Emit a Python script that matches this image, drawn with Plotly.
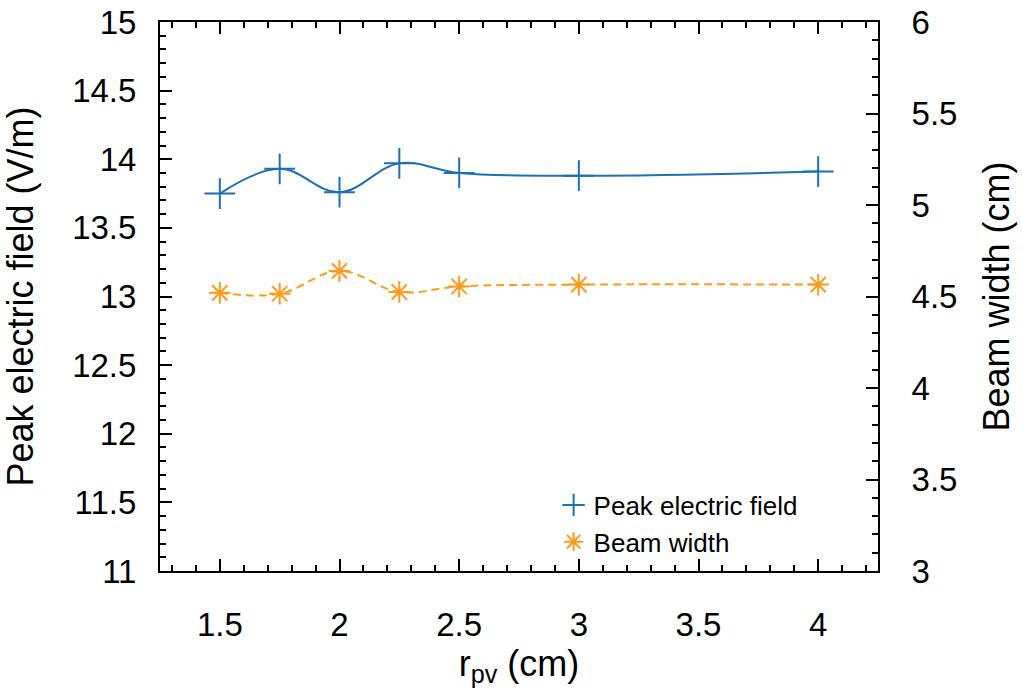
import plotly.graph_objects as go

# ---- data ----
r_pv = [1.5, 1.75, 2.0, 2.25, 2.5, 3.0, 4.0]
peak_field = [13.75, 13.93, 13.76, 13.97, 13.90, 13.88, 13.91]
beam_width = [4.52, 4.515, 4.64, 4.525, 4.555, 4.565, 4.565]

series_names = ["Peak electric field", "Beam width"]
x_ticks = [1.5, 2, 2.5, 3, 3.5, 4]
y1_ticks = [11, 11.5, 12, 12.5, 13, 13.5, 14, 14.5, 15]
y2_ticks = [3, 3.5, 4, 4.5, 5, 5.5, 6]

BLUE = "#1f6fb6"
ORANGE = "#ff9a1a"
FONT = "Liberation Sans, Arial, sans-serif"

fig = go.Figure()

# smooth curves
fig.add_trace(go.Scatter(x=r_pv, y=peak_field, mode="lines",
                         line=dict(color=BLUE, width=2, shape="spline", smoothing=1.1),
                         showlegend=False, hoverinfo="skip"))
fig.add_trace(go.Scatter(x=r_pv, y=beam_width, mode="lines", yaxis="y2",
                         line=dict(color=ORANGE, width=2, shape="spline", smoothing=1.1,
                                   dash="8px,5px"),
                         showlegend=False, hoverinfo="skip"))
# points
fig.add_trace(go.Scatter(x=r_pv, y=peak_field, mode="markers", name=series_names[0],
                         marker=dict(symbol="cross-thin-open", size=22,
                                     line=dict(color=BLUE, width=2), color=BLUE)))
fig.add_trace(go.Scatter(x=r_pv, y=beam_width, mode="markers", name=series_names[1], yaxis="y2",
                         marker=dict(symbol="asterisk-open", size=18,
                                     line=dict(color=ORANGE, width=2), color=ORANGE)))

axis_common = dict(showgrid=False, zeroline=False, showline=True, linecolor="black",
                   linewidth=2, ticks="inside", tickcolor="black", tickwidth=2,
                   automargin=False, ticklabeloverflow="allow",
                   tickfont=dict(family=FONT, size=33, color="black"))
minor_common = dict(dtick=0.1, ticklen=6, ticks="inside", tickcolor="black", tickwidth=2)

fig.update_layout(
    width=1022, height=694,
    margin=dict(l=160, r=144, t=22, b=123),
    paper_bgcolor="white", plot_bgcolor="white",
    font=dict(family=FONT, color="black"),
    xaxis=dict(range=[1.25, 4.25], tickvals=x_ticks, ticklen=12, mirror="ticks",
               minor=minor_common, ticklabelstandoff=23,
               title=dict(text="r<sub>pv</sub> (cm)", font=dict(family=FONT, size=36), standoff=4),
               **axis_common),
    yaxis=dict(range=[11, 15], tickvals=y1_ticks, ticklen=12,
               minor=minor_common, ticklabelstandoff=15,
               title=dict(text="Peak electric field (V/m)", font=dict(family=FONT, size=36), standoff=28),
               **axis_common),
    yaxis2=dict(range=[3, 6], tickvals=y2_ticks, ticklen=12, overlaying="y", side="right",
                minor=minor_common, ticklabelstandoff=25,
                title=dict(text="Beam width (cm)", font=dict(family=FONT, size=36), standoff=27),
                **axis_common),
    showlegend=True,
    legend=dict(x=0.895, y=0.01, xanchor="right", yanchor="bottom", bgcolor="rgba(0,0,0,0)",
                font=dict(family=FONT, size=26), tracegroupgap=0),
)

fig.write_html("out.html", config={"displayModeBar": False},
               post_script="document.body.style.margin='0';")
